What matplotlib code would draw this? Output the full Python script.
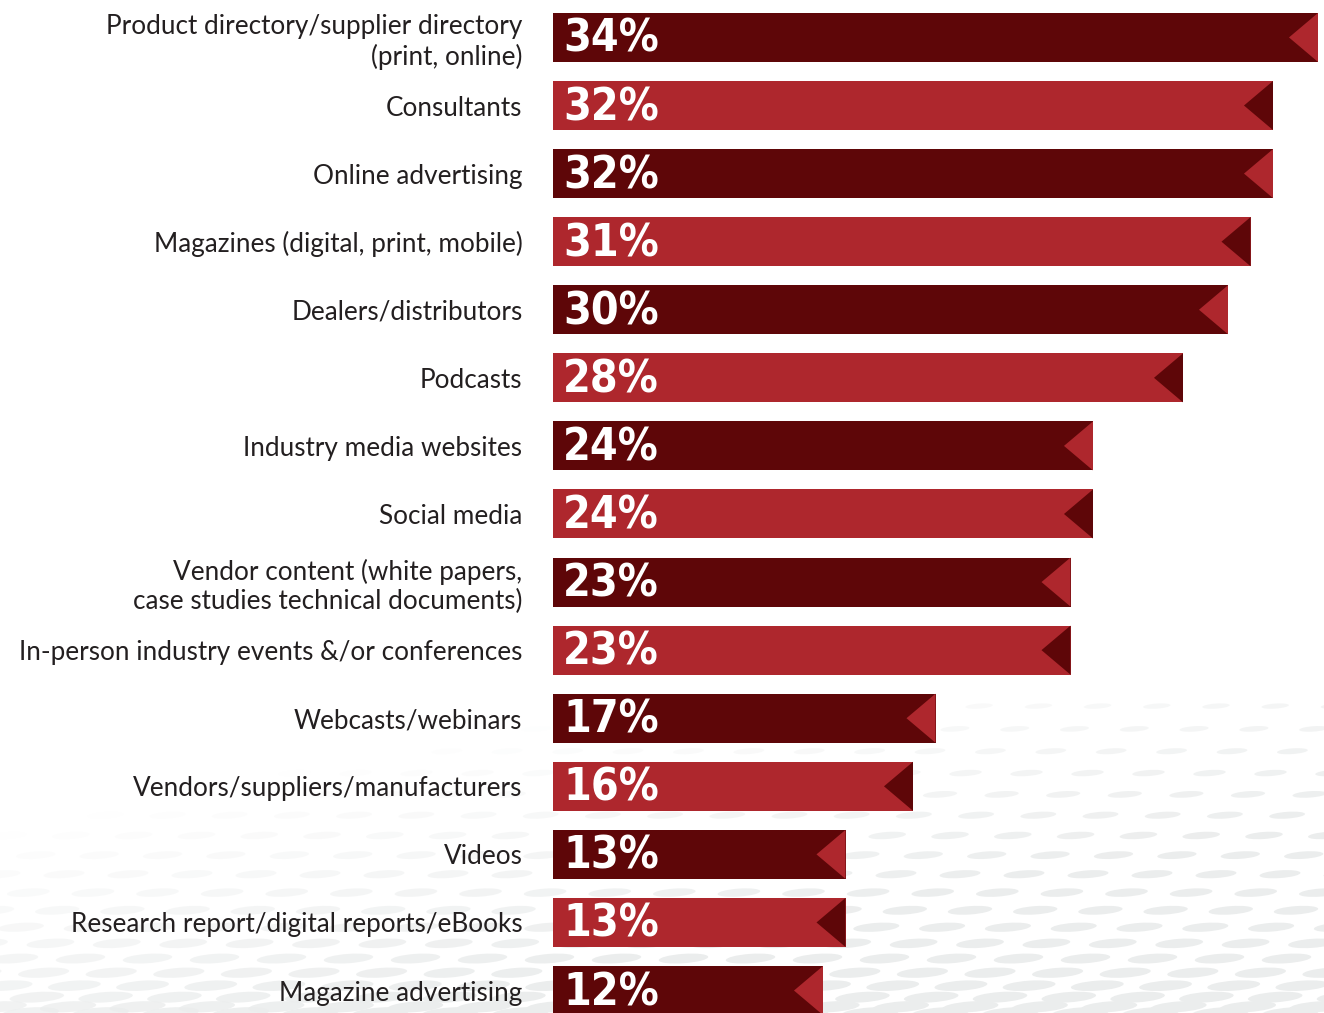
import numpy as np
import matplotlib.pyplot as plt
from matplotlib.patches import Polygon, Ellipse

labels = [
    "Product directory/supplier directory\n(print, online)",
    "Consultants",
    "Online advertising",
    "Magazines (digital, print, mobile)",
    "Dealers/distributors",
    "Podcasts",
    "Industry media websites",
    "Social media",
    "Vendor content (white papers,\ncase studies technical documents)",
    "In-person industry events &/or conferences",
    "Webcasts/webinars",
    "Vendors/suppliers/manufacturers",
    "Videos",
    "Research report/digital reports/eBooks",
    "Magazine advertising",
]
values = [34, 32, 32, 31, 30, 28, 24, 24, 23, 23, 17, 16, 13, 13, 12]

DARK = "#5e0608"
RED = "#ae272d"
TEXT = "#231f20"

fig = plt.figure(figsize=(13.24, 10.13), dpi=100)
fig.patch.set_facecolor("white")

# faint dotted backdrop in the lower right
bg = fig.add_axes([0, 0, 1, 1], zorder=0)
bg.set_xlim(0, 1324)
bg.set_ylim(1013, 0)
bg.axis("off")
for r in range(26):
    yy = 1013 - (r ** 1.35) * 6.2
    if yy < 690:
        break
    w = 58 - r * 1.7
    h = 11 - r * 0.33
    step = 70 - r * 0.6
    shift = (r % 2) * step / 2 + r * 4
    for xx in np.arange(-40 + shift, 1380, step):
        # fade towards the upper-left
        k = (xx / 1324.0) * 1.0 + (yy - 690) / 323.0 * 1.2 - 0.5
        a = np.clip(k, 0, 1)
        if a <= 0.02:
            continue
        bg.add_patch(Ellipse((xx, yy), w, max(h, 2), angle=-4,
                             facecolor="#ebeded", alpha=a, lw=0))

ax = fig.add_axes([553 / 1324, 0, 769.5 / 1324, 1], zorder=1)
ax.patch.set_alpha(0)
y = np.arange(len(values))
h = 0.72
colors = [DARK if i % 2 == 0 else RED for i in range(len(values))]
ax.barh(y, values, height=h, color=colors, zorder=2)

# notch at the end of each bar in the other colour
tri_w = 1.29
for i, v in enumerate(values):
    other = RED if colors[i] == DARK else DARK
    ax.add_patch(Polygon([(v, i - h / 2), (v - tri_w, i), (v, i + h / 2)],
                         closed=True, facecolor=other, lw=0, zorder=3))
    ax.text(0.45, i + 0.03, f"{v}%", va="center", ha="left", color="white",
            fontsize=32, fontweight="bold", fontstretch="condensed",
            family="DejaVu Sans", zorder=4)

ax.set_xlim(0, 34.2)
ax.set_ylim(14.33, -0.55)
ax.set_yticks(y)
ax.set_yticklabels(labels, fontsize=18.8, color=TEXT, family="Lato",
                   linespacing=1.2)
ax.tick_params(axis="y", length=0, pad=22)
ax.set_xticks([])
for s in ax.spines.values():
    s.set_visible(False)

fig.savefig("out.png", dpi=100, facecolor="white")
